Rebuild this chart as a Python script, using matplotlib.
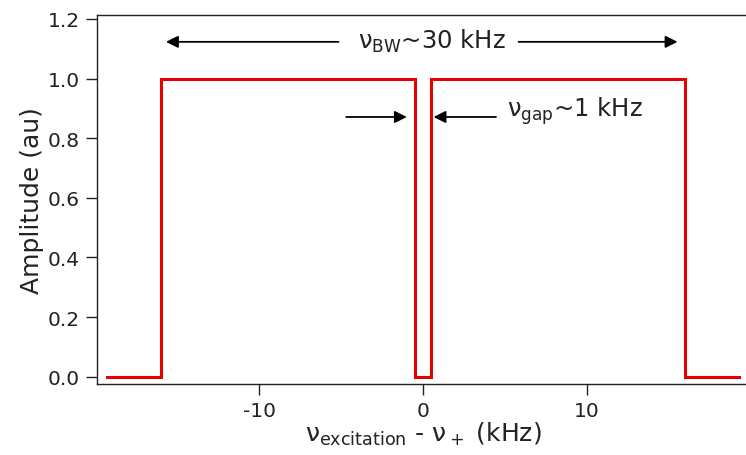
import matplotlib
matplotlib.use("Agg")
import matplotlib.pyplot as plt

# excitation spectrum: two flat bands with a narrow notch around zero
freq = [-19.3, -16.0, -16.0, -0.5, -0.5, 0.5, 0.5, 16.0, 16.0, 19.3]
amp = [0.0, 0.0, 1.0, 1.0, 0.0, 0.0, 1.0, 1.0, 0.0, 0.0]

x_ticks = [-10, 0, 10]
x_tick_labels = ["-10", "0", "10"]
y_ticks = [0.0, 0.2, 0.4, 0.6, 0.8, 1.0, 1.2]

bw_label = r"$\mathregular{ν_{BW}}$~30 kHz"
gap_label = r"$\mathregular{ν_{gap}}$~1 kHz"

plt.rcParams['font.family'] = ['DejaVu Sans']
plt.rcParams['mathtext.fontset'] = 'dejavusans'

fig = plt.figure(figsize=(7.46, 4.56), dpi=100)
ax = fig.add_axes([0.1296, 0.1557, 0.877, 0.8092])

ax.plot(freq, amp, color='#e60000', lw=2.2, solid_joinstyle='miter')

ax.set_xlim(-19.93, 20.0)
ax.set_ylim(-0.0245, 1.213)
ax.set_xticks(x_ticks)
ax.set_xticklabels(x_tick_labels)
ax.set_yticks(y_ticks)
ax.set_yticklabels(["%.1f" % v for v in y_ticks])

for side in ['left', 'bottom', 'top']:
    ax.spines[side].set_linewidth(1.0)
    ax.spines[side].set_color('#222222')
ax.spines['right'].set_visible(False)

ax.tick_params(direction='out', length=8, width=1.0, pad=4,
               labelsize=14.5, colors='#222222')

ax.set_ylabel("Amplitude (au)", fontsize=18, color='#222222', labelpad=3)
ax.set_xlabel(r"$\mathregular{ν_{excitation}}$ - $\mathregular{ν_+}$ (kHz)",
              fontsize=18, color='#222222', labelpad=0)

arrow = dict(arrowstyle='-|>', color='black', lw=1.3,
             mutation_scale=18, shrinkA=0, shrinkB=0)

# bandwidth arrows
ax.annotate("", xy=(-15.7, 1.123), xytext=(-5.17, 1.123), arrowprops=arrow)
ax.annotate("", xy=(15.52, 1.123), xytext=(5.82, 1.123), arrowprops=arrow)
ax.text(0.5, 1.127, bw_label, fontsize=17.5, ha='center', va='center',
        color='#222222')

# gap arrows
ax.annotate("", xy=(-1.0, 0.871), xytext=(-4.7, 0.871), arrowprops=arrow)
ax.annotate("", xy=(0.63, 0.871), xytext=(4.44, 0.871), arrowprops=arrow)
ax.text(5.11, 0.893, gap_label, fontsize=17.5, ha='left', va='center',
        color='#222222')

fig.savefig("out.png", dpi=100)
